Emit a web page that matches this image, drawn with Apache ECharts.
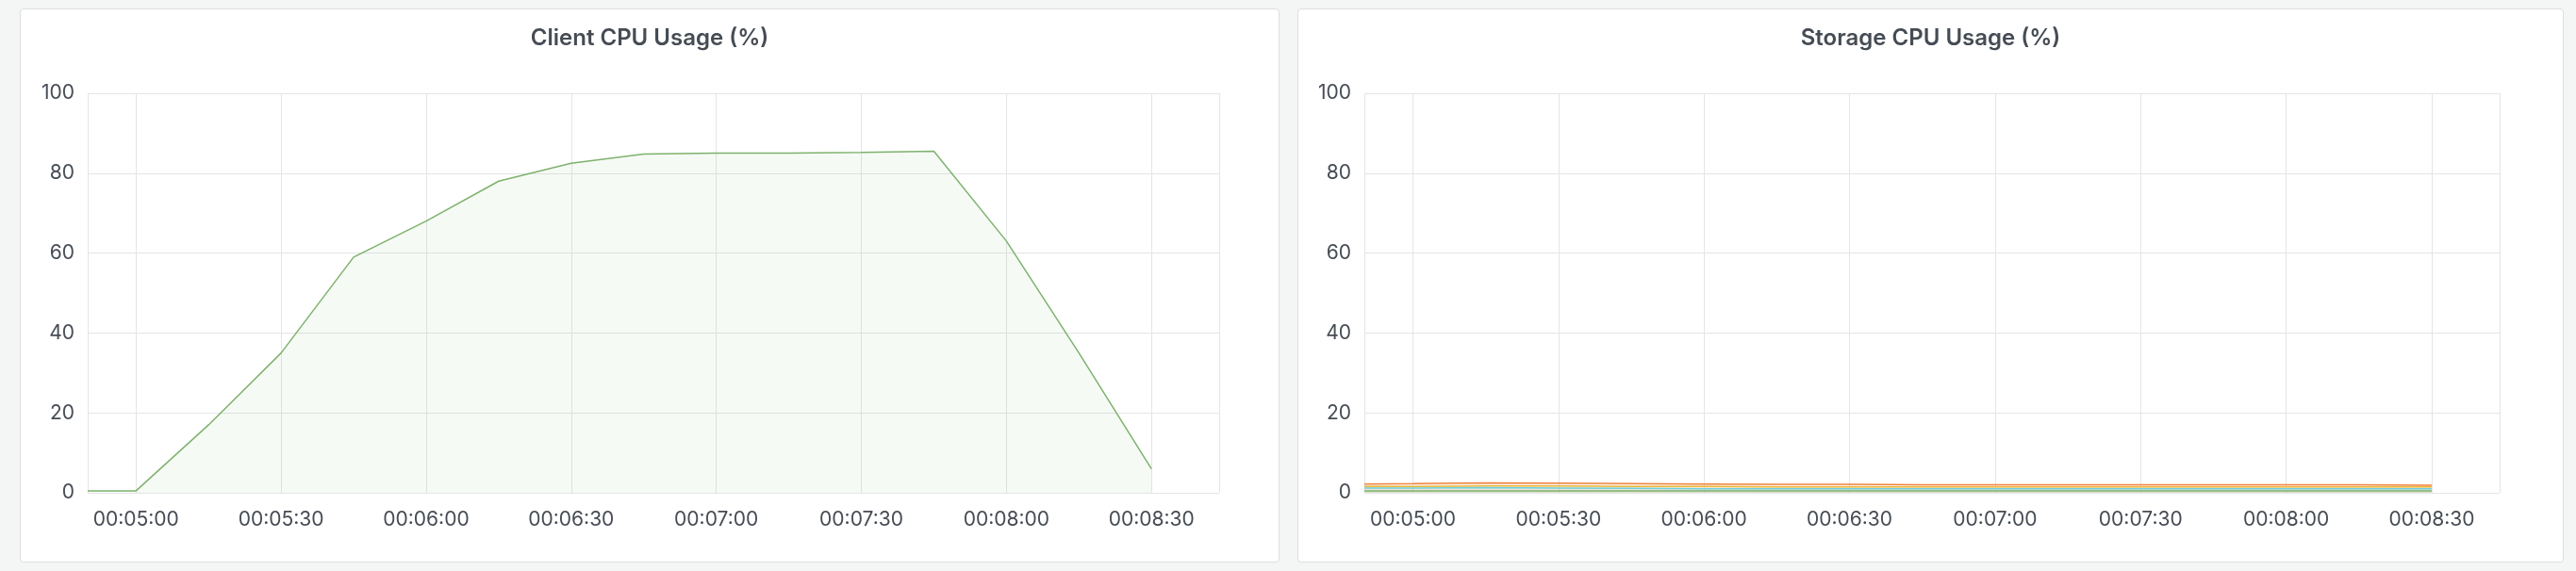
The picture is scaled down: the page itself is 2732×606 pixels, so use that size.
<!DOCTYPE html>
<html>
<head>
<meta charset="utf-8">
<script src="https://cdn.jsdelivr.net/npm/echarts@6/dist/echarts.min.js"></script>
<style>
  body { margin: 0; background: #f4f5f5; width: 2732px; height: 606px; overflow: hidden; font-family: Inter, Roboto, sans-serif; }
  .panel { position: absolute; top: 9px; height: 586px; background: #fff; border: 1px solid #dcdee1; border-radius: 4px; }
</style>
</head>
<body>
<div id="c1" class="panel" style="left:21px;width:1334px;"></div>
<div id="c2" class="panel" style="left:1376px;width:1341px;"></div>
<script>
// time points (every 15 s, first sample at 00:04:50)
var times = ['00:04:50','00:05:00','00:05:15','00:05:30','00:05:45','00:06:00','00:06:15','00:06:30',
             '00:06:45','00:07:00','00:07:15','00:07:30','00:07:45','00:08:00','00:08:15','00:08:30'];
var clientCpu = [0.5, 0.5, 17, 35, 59, 68, 78, 82.5, 84.8, 85, 85, 85.2, 85.5, 63, 35, 6];
var storageNames = ['node-1', 'node-2', 'node-3', 'node-4'];
var storageCpu = [
  [2.2, 2.3, 2.5, 2.4, 2.3, 2.2, 2.1, 2.1, 2.0, 2.0, 2.0, 2.0, 2.0, 2.0, 2.0, 1.9],
  [1.6, 1.6, 1.7, 1.7, 1.6, 1.6, 1.5, 1.5, 1.5, 1.5, 1.5, 1.5, 1.5, 1.5, 1.5, 1.5],
  [1.2, 1.2, 1.3, 1.2, 1.1, 1.0, 1.0, 1.0, 1.0, 1.0, 1.0, 1.0, 1.0, 1.0, 1.0, 1.0],
  [0.5, 0.5, 0.5, 0.5, 0.5, 0.5, 0.5, 0.5, 0.5, 0.5, 0.5, 0.5, 0.5, 0.5, 0.5, 0.5]
];
var storageColors = ['#ef843c', '#eab839', '#6ed0e0', '#7eb26d'];
var yTicks = [0, 20, 40, 60, 80, 100];

function ts(t) { return new Date('2020-01-01T' + t).getTime(); }
function pad(n) { return (n < 10 ? '0' : '') + n; }

function baseOption(title, gridLeft, gridRight) {
  return {
    animation: false,
    title: { text: title, left: 'center', top: 14,
      textStyle: { fontFamily: 'Inter', fontSize: 24, fontWeight: 600, color: '#464c54' } },
    grid: { left: gridLeft, right: gridRight, top: 89, bottom: 73 },
    xAxis: {
      type: 'time',
      min: ts('00:04:50'), max: ts('00:08:44'),
      interval: 30000,
      axisLine: { show: false }, axisTick: { show: false },
      splitLine: { show: true, lineStyle: { color: '#e4e5e7' } },
      axisLabel: {
        fontFamily: 'Inter', fontSize: 21, color: '#464c54', margin: 18,
        showMinLabel: false, showMaxLabel: false,
        formatter: function (v) {
          var d = new Date(v);
          return pad(d.getHours()) + ':' + pad(d.getMinutes()) + ':' + pad(d.getSeconds());
        }
      }
    },
    yAxis: {
      type: 'value', min: yTicks[0], max: yTicks[yTicks.length - 1], interval: 20,
      axisLine: { show: false }, axisTick: { show: false },
      splitLine: { lineStyle: { color: '#e4e5e7' } },
      axisLabel: { fontFamily: 'Inter', fontSize: 21, color: '#464c54', margin: 14 }
    },
    series: []
  };
}

var o1 = baseOption('Client CPU Usage (%)', 71, 63);
o1.series.push({
  type: 'line', symbol: 'none',
  data: times.map(function (t, i) { return [ts(t), clientCpu[i]]; }),
  lineStyle: { color: '#7eb26d', width: 1.5 },
  areaStyle: { color: 'rgba(126,178,109,0.1)' }
});
echarts.init(document.getElementById('c1')).setOption(o1);

var o2 = baseOption('Storage CPU Usage (%)', 70, 67);
storageNames.forEach(function (n, k) {
  o2.series.push({
    name: n, type: 'line', symbol: 'none',
    data: times.map(function (t, i) { return [ts(t), storageCpu[k][i]]; }),
    lineStyle: { color: storageColors[k], width: 1.5 },
    areaStyle: { color: storageColors[k], opacity: 0.1 }
  });
});
echarts.init(document.getElementById('c2')).setOption(o2);
</script>
</body>
</html>
